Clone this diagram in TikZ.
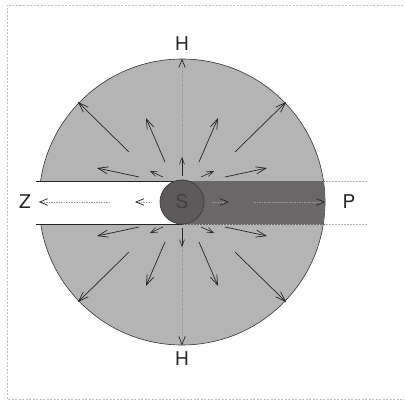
\documentclass[tikz,border=0pt]{standalone}
\usepackage{fontspec}
\setsansfont{TeX Gyre Heros}
\usepackage{tikz}
\usetikzlibrary{arrows.meta, positioning, calc}

\definecolor{shellgray}{HTML}{B4B4B4}
\definecolor{tailgray}{HTML}{6B6769}
\definecolor{sungray}{HTML}{5E5A5B}
\definecolor{framegray}{HTML}{BDBDBD}

\tikzset{
  flow/.style={draw=black!85, line width=0.7pt, -{Straight Barb[length=10pt,width=7pt]}},
  smallflow/.style={draw=black!85, line width=0.6pt, -{Straight Barb[length=6.5pt,width=5pt]}},
  axisflow/.style={draw=black!40, line width=0.5pt, dash pattern=on 1.5pt off 1pt,
    -{Straight Barb[length=8pt,width=6.5pt,line width=0.7pt,color=black!85]}},
  letter/.style={font=\sffamily\fontsize{19}{19}\selectfont, text=black!85, inner sep=0pt},
}

\begin{document}
\begin{tikzpicture}[x=1pt, y=-1pt]
    \useasboundingbox (0,0) rectangle (405,401);
    % page frame
    \draw[framegray, line width=0.6pt, dash pattern=on 2pt off 1.5pt] (410,5) -- (7,5) -- (7,399) -- (410,399);

    % HELIOSPHERE
    \node (shell) [circle, draw=black!80, line width=0.6pt, fill=shellgray, minimum size=286pt, inner sep=0pt] at (182,202) {};
    \begin{scope}
        \clip (182,202) circle[radius=143];
        \fill[tailgray] (182,181) rectangle (340,224);
    \end{scope}
    \fill[white] (36,181) rectangle (182,224);
    \draw[black!85, line width=0.7pt] (36,181) -- (182,181);
    \draw[black!85, line width=0.7pt] (36,224) -- (182,224);
    \draw[black!60, line width=0.6pt, dash pattern=on 2pt off 1pt] (182,181) -- (326,181);
    \draw[black!60, line width=0.6pt, dash pattern=on 2pt off 1pt] (182,224) -- (326,224);
    \draw[black!30, line width=0.5pt, dash pattern=on 1.5pt off 1.5pt] (326,181) -- (367,181);
    \draw[black!30, line width=0.5pt, dash pattern=on 1.5pt off 1.5pt] (326,224) -- (367,224);

    \node (S) [circle, draw=black!75, line width=0.8pt, fill=sungray, minimum size=44pt, inner sep=0pt, letter, text=black!75] at (182,202) {S};

    % radial flow
    \foreach \sx in {-1,1}{
      \foreach \sy in {-1,1}{
        \foreach \ax/\ay/\bx/\by in {53/50/104/100, 17/40/36/84, 43/25/85/34}{
          \draw[flow] ($(S.center)+(\sx*\ax,\sy*\ay)$) -- ($(S.center)+(\sx*\bx,\sy*\by)$);
        }
        \draw[smallflow] ($(S.center)+(\sx*19,\sy*25)$) -- ($(S.center)+(\sx*32,\sy*31)$);
      }
      \draw[smallflow] ($(S.center)+(0,\sx*26)$) -- ($(S.center)+(0,\sx*45)$);
      \draw[axisflow] ($(S.center)+(\sx*30,0)$) -- ($(S.center)+(\sx*47,0)$);
    }
    \draw[axisflow] ($(S.center)+(0,-45)$) -- (shell.north);
    \draw[axisflow] ($(S.center)+(0,45)$) -- (shell.south);
    \draw[axisflow] ($(S.center)+(-72,0)$) -- (shell.west);
    \draw[axisflow] ($(S.center)+(72,0)$) -- (shell.east);

    % LABELS
    \node (Htop) [letter] at (182,44) {H};
    \node (Hbot) [letter] at (182,359) {H};
    \node (Z) [letter] at (25,202) {Z};
    \node (P) [letter] at (349,202) {P};
\end{tikzpicture}
\end{document}
